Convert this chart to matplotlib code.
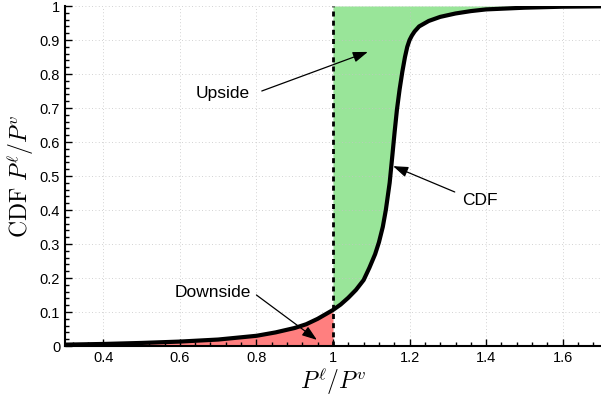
import matplotlib
matplotlib.use("Agg")
import matplotlib.pyplot as plt
import numpy as np
from matplotlib.ticker import MultipleLocator

# 读自图：CDF 曲线
ratio = [0.3, 0.4, 0.5, 0.6, 0.7, 0.8, 0.85, 0.9, 0.93, 0.96, 1.0,
         1.02, 1.04, 1.06, 1.08, 1.095, 1.11, 1.12, 1.13, 1.138, 1.148,
         1.155, 1.161, 1.167, 1.174, 1.181, 1.188, 1.194, 1.2, 1.206, 1.213,
         1.225, 1.25, 1.28, 1.32, 1.36, 1.4, 1.5, 1.6, 1.7]
cdf = [0.004, 0.006, 0.009, 0.013, 0.019, 0.030, 0.040, 0.053, 0.064, 0.080, 0.106,
       0.122, 0.142, 0.165, 0.194, 0.23, 0.27, 0.305, 0.35, 0.40, 0.48,
       0.56, 0.63, 0.695, 0.755, 0.806, 0.85, 0.88, 0.900, 0.913, 0.925,
       0.940, 0.956, 0.968, 0.978, 0.985, 0.990, 0.995, 0.998, 0.999]

x_ticks = [0.4, 0.6, 0.8, 1.0, 1.2, 1.4, 1.6]
x_ticklabels = ["0.4", "0.6", "0.8", "1", "1.2", "1.4", "1.6"]
y_ticks = [0, 0.1, 0.2, 0.3, 0.4, 0.5, 0.6, 0.7, 0.8, 0.9, 1.0]
y_ticklabels = ["0", "0.1", "0.2", "0.3", "0.4", "0.5", "0.6", "0.7", "0.8", "0.9", "1"]

C_DOWN = "#ff7f7f"
C_UP = "#99e599"

plt.rcParams["mathtext.fontset"] = "cm"
plt.rcParams["font.family"] = ["Liberation Sans", "DejaVu Sans"]

fig = plt.figure(figsize=(6.01, 3.97), dpi=100)
ax = fig.add_axes([65 / 601, 51 / 397, 536 / 601, 340 / 397])

x = np.array(ratio)
y = np.array(cdf)

ax.fill_between(x, 0, y, where=x <= 1.0, color=C_DOWN, linewidth=0, zorder=1)
ax.fill_between(x, y, 1, where=x >= 1.0, color=C_UP, linewidth=0, zorder=1)
ax.plot(x, y, color="black", linewidth=3, zorder=4, solid_joinstyle="round")
ax.plot([1.0, 1.0], [0, 1], color="black", linewidth=2,
        linestyle=(0, (1.8, 1.5)), zorder=3)

ax.set_xlim(0.3, 1.7)
ax.set_ylim(0, 1)
ax.set_xticks(x_ticks)
ax.set_xticklabels(x_ticklabels)
ax.set_yticks(y_ticks)
ax.set_yticklabels(y_ticklabels)
ax.xaxis.set_minor_locator(MultipleLocator(0.04))
ax.yaxis.set_minor_locator(MultipleLocator(0.02))
ax.tick_params(which="major", direction="in", length=5, width=1, labelsize=10.5)
ax.tick_params(which="minor", direction="in", length=3, width=1)
ax.grid(True, which="major", linestyle=(0, (1, 3)), linewidth=0.6,
        color="#c4c4c4", zorder=0)
ax.spines[["top", "right"]].set_visible(False)
ax.spines["left"].set_linewidth(1.5)
ax.spines["bottom"].set_linewidth(1.5)

ax.set_xlabel(r"$P^{\ell}/P^{v}$", fontsize=17, labelpad=1)
ax.set_ylabel(r"$\mathrm{CDF}\ P^{\ell}/P^{v}$", fontsize=17, labelpad=3)

arrow = dict(arrowstyle="-|>,head_length=0.45,head_width=0.16", color="black",
             lw=0.9, mutation_scale=20, shrinkA=0, shrinkB=0)

ax.text(0.713, 0.744, "Upside", fontsize=12.5, ha="center", va="center")
ax.annotate("", xy=(1.091, 0.865), xytext=(0.814, 0.75), arrowprops=arrow)

ax.text(1.384, 0.429, "CDF", fontsize=12.5, ha="center", va="center")
ax.annotate("", xy=(1.157, 0.529), xytext=(1.318, 0.453), arrowprops=arrow, zorder=5)

ax.text(0.686, 0.156, "Downside", fontsize=12.5, ha="center", va="center")
ax.annotate("", xy=(0.958, 0.018), xytext=(0.80, 0.15), arrowprops=arrow)

fig.savefig("out.png", dpi=100)
